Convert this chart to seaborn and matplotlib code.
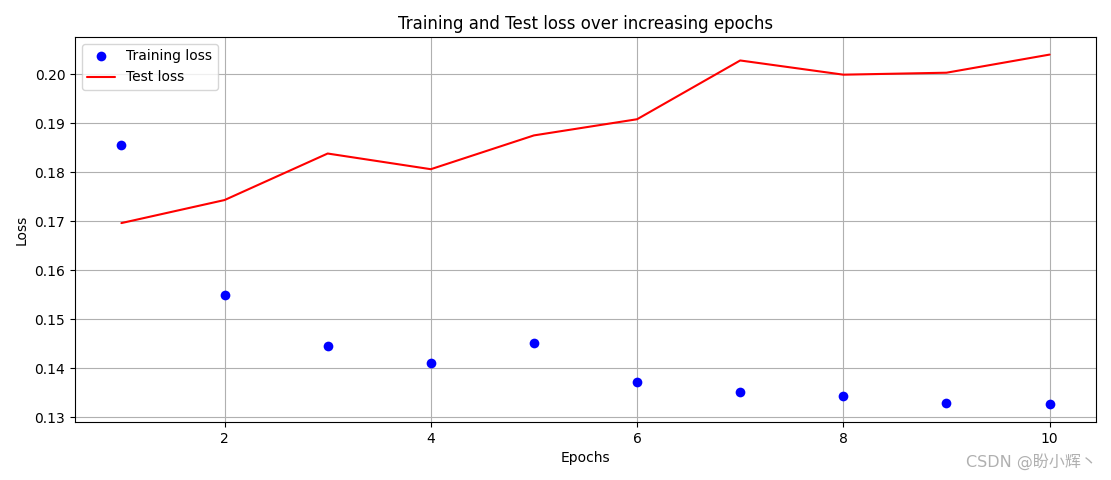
import numpy as np
import pandas as pd
import matplotlib
matplotlib.use("Agg")
import matplotlib.pyplot as plt
import seaborn as sns

# values
epochs = [1, 2, 3, 4, 5, 6, 7, 8, 9, 10]
train_loss = [0.1855, 0.1549, 0.1445, 0.1410, 0.1451, 0.1371, 0.1351, 0.1343, 0.1329, 0.1327]
test_loss = [0.1696, 0.1743, 0.1838, 0.1806, 0.1875, 0.1908, 0.2028, 0.1999, 0.2003, 0.2040]

sns.set_style("ticks")
plt.rcParams['font.family'] = ['DejaVu Sans', 'Noto Sans CJK SC']
plt.rcParams.update({"text.color": "black", "axes.labelcolor": "black",
                     "xtick.color": "black", "ytick.color": "black"})

df = pd.DataFrame({"epoch": epochs, "train": train_loss, "test": test_loss})

fig, ax = plt.subplots(figsize=(11.11, 4.8), dpi=100)
fig.subplots_adjust(left=0.0675, right=0.9865, top=0.923, bottom=0.121)

# training loss as blue dots, test loss as a red line
sns.lineplot(data=df, x="epoch", y="train", ax=ax, color="blue", linestyle="none",
             marker="o", markersize=7, markeredgewidth=0, label="Training loss", zorder=3)
sns.lineplot(data=df, x="epoch", y="test", ax=ax, color="red", linewidth=1.5,
             label="Test loss", zorder=3)

ax.set_title("Training and Test loss over increasing epochs", fontsize=12)
ax.set_xlabel("Epochs")
ax.set_ylabel("Loss")
ax.set_xticks([2, 4, 6, 8, 10])
ax.set_yticks(np.arange(0.13, 0.2001, 0.01))
ax.set_xlim(0.55, 10.45)
ax.set_ylim(0.129, 0.2076)
ax.grid(True, color="#b0b0b0", linewidth=0.8)
ax.set_axisbelow(True)
for sp in ax.spines.values():
    sp.set_color("black")
    sp.set_linewidth(0.8)
ax.legend(loc="upper left", fontsize=10, frameon=True)

fig.text(0.987, 0.02, "CSDN @盼小辉丶", ha="right", va="bottom", fontsize=11.5,
         color="#b0b0b0", family=['DejaVu Sans', 'Noto Sans CJK SC'])

fig.savefig("out.png", dpi=100)
